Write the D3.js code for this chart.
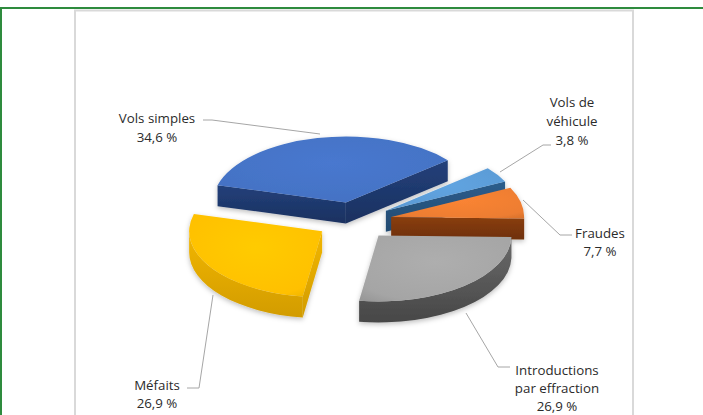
<!DOCTYPE html>
<html>
<head>
<meta charset="utf-8">
<script src="https://cdn.jsdelivr.net/npm/d3@7"></script>
<style>
  body { margin: 0; background: #fff; }
  text { font-family: "Open Sans", sans-serif; font-size: 13.3px; fill: #2b2b2b; }
</style>
</head>
<body>
<div id="chart"></div>
<script>
// Data
const categories = ['Vols de véhicule', 'Fraudes', 'Introductions par effraction', 'Méfaits', 'Vols simples']
const values = [3.8, 7.7, 26.9, 26.9, 34.6]
const labelLines = [
  ['Vols de', 'véhicule', '3,8 %'],
  ['Fraudes', '7,7 %'],
  ['Introductions', 'par effraction', '26,9 %'],
  ['Méfaits', '26,9 %'],
  ['Vols simples', '34,6 %']
]

// Dimensions
let dimensions = {
  width: 703,
  height: 415,
  cx: 354,
  cy: 221,
  rx: 133,
  ry: 66,
  depth: 21,
  explode: 0.286
}

const colours = [
  { top: '#5b9bd5', side: '#2c5d8c', sideLo: '#234a70' },
  { top: '#ed7d31', side: '#8a3e0e', sideLo: '#6e3008' },
  { top: '#a5a5a5', side: '#6a6a6a', sideLo: '#474747' },
  { top: '#ffc000', side: '#f2b600', sideLo: '#d29c00' },
  { top: '#4472c4', side: '#23407a', sideLo: '#1a3160' }
]

// label anchors (text centre x, first line centre y) and leader polylines
const labelPos = [
  { x: 572, y: 102, step: 19, line: [[551, 145], [543, 145], [500, 172]] },
  { x: 600, y: 233, step: 18, line: [[523, 200], [560, 235], [572, 235]] },
  { x: 557, y: 370, step: 18, line: [[466, 313], [498, 367], [510, 367]] },
  { x: 157, y: 385, step: 18, line: [[187, 388], [199, 388], [213, 295]] },
  { x: 157, y: 118, step: 19, line: [[203, 120], [212, 120], [320, 134]] }
]

const svg = d3.select('#chart')
  .append('svg')
    .attr('width', dimensions.width)
    .attr('height', dimensions.height)

const defs = svg.append('defs')
const shadow = defs.append('filter').attr('id', 'shadow')
  .attr('x', '-20%').attr('y', '-20%').attr('width', '140%').attr('height', '140%')
shadow.append('feDropShadow')
  .attr('dx', 0).attr('dy', 2).attr('stdDeviation', 2.5)
  .attr('flood-color', '#000').attr('flood-opacity', 0.25)

// gradients for walls (lighter at the rim, darker at the base) and tops
colours.forEach((c, i) => {
  const w = defs.append('linearGradient').attr('id', 'wall' + i)
    .attr('x1', 0).attr('y1', 0).attr('x2', 0).attr('y2', 1)
  w.append('stop').attr('offset', '0%').attr('stop-color', c.side)
  w.append('stop').attr('offset', '100%').attr('stop-color', c.sideLo)
  const t = defs.append('radialGradient').attr('id', 'top' + i)
    .attr('cx', '50%').attr('cy', '40%').attr('r', '75%')
  t.append('stop').attr('offset', '0%').attr('stop-color', d3.color(c.top).brighter(0.15))
  t.append('stop').attr('offset', '80%').attr('stop-color', c.top)
  t.append('stop').attr('offset', '100%').attr('stop-color', d3.color(c.top).darker(0.25))
})

// frame
svg.append('line')
  .attr('x1', 0).attr('x2', dimensions.width).attr('y1', 8).attr('y2', 8)
  .attr('stroke', '#2e8b3e').attr('stroke-width', 2)
svg.append('line')
  .attr('x1', 1).attr('x2', 1).attr('y1', 7).attr('y2', dimensions.height)
  .attr('stroke', '#2e8b3e').attr('stroke-width', 2)
svg.append('rect')
  .attr('x', 75).attr('y', 10.5)
  .attr('width', 558).attr('height', 420)
  .attr('fill', 'none').attr('stroke', '#d9d9d9').attr('stroke-width', 2)

// Scales
const pie = d3.pie()
  .sort(null)
  .startAngle(50 * Math.PI / 180)
  .endAngle(50 * Math.PI / 180 + 2 * Math.PI)

const arcs = pie(values)

const xScale = d3.scaleLinear().domain([-1, 1]).range([-dimensions.rx, dimensions.rx])
const yScale = d3.scaleLinear().domain([-1, 1]).range([-dimensions.ry, dimensions.ry])

const pt = (c, a, dy = 0) => [c[0] + xScale(Math.sin(a)), c[1] - yScale(Math.cos(a)) + dy]

const apex = (d) => {
  const m = (d.startAngle + d.endAngle) / 2
  return [dimensions.cx + xScale(Math.sin(m)) * dimensions.explode,
          dimensions.cy - yScale(Math.cos(m)) * dimensions.explode]
}

function topPath(d) {
  const c = apex(d)
  const p0 = pt(c, d.startAngle), p1 = pt(c, d.endAngle)
  const large = d.endAngle - d.startAngle > Math.PI ? 1 : 0
  return `M${c}L${p0}A${dimensions.rx},${dimensions.ry} 0 ${large} 1 ${p1}Z`
}

function radialWall(c, a) {
  const p = pt(c, a), dd = dimensions.depth
  return `M${c}L${p}L${p[0]},${p[1] + dd}L${c[0]},${c[1] + dd}Z`
}

function outerWall(d) {
  const c = apex(d)
  const lo = Math.PI / 2, hi = 3 * Math.PI / 2
  const b0 = Math.max(d.startAngle, lo), b1 = Math.min(d.endAngle, hi)
  if (b1 <= b0) return null
  const dd = dimensions.depth
  const p0 = pt(c, b0), p1 = pt(c, b1)
  return `M${p0}A${dimensions.rx},${dimensions.ry} 0 0 1 ${p1}` +
    `L${p1[0]},${p1[1] + dd}A${dimensions.rx},${dimensions.ry} 0 0 0 ${p0[0]},${p0[1] + dd}Z`
}

// chart: back slices first
const order = arcs.map((d, i) => i).sort((a, b) => apex(arcs[a])[1] - apex(arcs[b])[1])

const ctr = svg.append('g').attr('filter', 'url(#shadow)')

order.forEach((i) => {
  const d = arcs[i]
  const c = apex(d)
  const g = ctr.append('g')
  // a radial edge faces the viewer if its outward normal points down the page
  if (Math.cos(d.startAngle - Math.PI / 2) < 0) {
    g.append('path').attr('d', radialWall(c, d.startAngle)).attr('fill', `url(#wall${i})`)
  }
  if (Math.cos(d.endAngle + Math.PI / 2) < 0) {
    g.append('path').attr('d', radialWall(c, d.endAngle)).attr('fill', `url(#wall${i})`)
  }
  const ow = outerWall(d)
  if (ow) g.append('path').attr('d', ow).attr('fill', `url(#wall${i})`)
  g.append('path').attr('d', topPath(d)).attr('fill', `url(#top${i})`)
})

// leader lines
svg.selectAll('polyline.leader')
  .data(labelPos)
  .join('polyline')
  .attr('class', 'leader')
  .attr('points', (d) => d.line.join(' '))
  .attr('fill', 'none')
  .attr('stroke', '#a6a6a6')
  .attr('stroke-width', 1)

// labels
labelLines.forEach((lines, i) => {
  const p = labelPos[i]
  svg.append('text')
    .attr('text-anchor', 'middle')
    .selectAll('tspan')
    .data(lines)
    .join('tspan')
    .attr('x', p.x)
    .attr('y', (d, j) => p.y + j * p.step + 4.5)
    .text((d) => d)
})
</script>
</body>
</html>
